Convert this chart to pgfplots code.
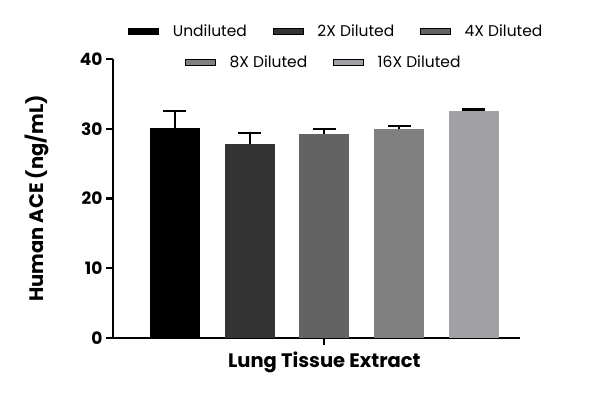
\documentclass[border=0pt]{standalone}
\usepackage{fontspec}
\setmainfont{Poppins}
\usepackage{pgfplots}
\pgfplotsset{compat=1.18}
\definecolor{c1}{HTML}{000000}
\definecolor{c2}{HTML}{333333}
\definecolor{c3}{HTML}{636363}
\definecolor{c4}{HTML}{808080}
\definecolor{c5}{HTML}{A1A0A4}
\newcommand{\gap}{\kern 24pt\mbox{}}
\pgfplotsset{
  barsty/.style={ybar, bar width=50pt, bar shift=0pt, draw=none, forget plot,
    error bars/y dir=plus, error bars/y explicit,
    error bars/error bar style={line width=2.2pt, black},
    error bars/error mark options={rotate=90, mark size=11.5pt, line width=2.2pt, black}},
  legsty/.style={
    legend image code/.code={\fill[##1] (0pt,-3pt) rectangle (30pt,3pt);},
    legend style={draw=none, fill=none, font=\fontsize{15.5}{17}\selectfont,
      /tikz/every odd column/.append style={column sep=12pt},
      legend cell align=left},
  },
}
\begin{document}
\begin{tikzpicture}[x=1pt,y=1pt]
\useasboundingbox (0,0) rectangle (600,398);
\begin{axis}[
  at={(113pt,60pt)}, anchor=south west,
  scale only axis, width=407pt, height=279pt,
  xmin=0.17, xmax=5.62, ymin=0, ymax=40,
  axis lines=left, axis line style={-, line width=2.6pt},
  ytick={0,10,20,30,40}, xtick={3}, xticklabels={Lung Tissue Extract},
  tick align=outside, major tick length=7pt,
  tick style={line width=2.2pt, black},
  /pgf/number format/assume math mode=true,
  yticklabel style={font=\fontsize{17}{19}\selectfont\bfseries},
  xticklabel style={font=\fontsize{19.5}{21}\selectfont\bfseries, yshift=-3pt},
  ylabel={Human ACE (ng/mL)},
  ylabel style={font=\fontsize{19.5}{21}\selectfont\bfseries, yshift=24pt},
  legsty,
  legend columns=3,
  legend style={at={(0.549,1.098)}, anchor=center},
]
\addlegendimage{fill=c1}\addlegendentry{Undiluted\gap}
\addlegendimage{fill=c2}\addlegendentry{2X Diluted\gap}
\addlegendimage{fill=c3}\addlegendentry{4X Diluted}
\addplot[fill=c1, barsty] coordinates {(1,30.1) +- (0,2.5)};
\addplot[fill=c2, barsty] coordinates {(2,27.8) +- (0,1.6)};
\addplot[fill=c3, barsty] coordinates {(3,29.2) +- (0,0.8)};
\addplot[fill=c4, barsty] coordinates {(4,29.9) +- (0,0.5)};
\addplot[fill=c5, barsty] coordinates {(5,32.5) +- (0,0.25)};
\end{axis}
\begin{axis}[
  at={(113pt,60pt)}, anchor=south west,
  scale only axis, width=407pt, height=279pt,
  xmin=0.17, xmax=5.62, ymin=0, ymax=40,
  hide axis,
  legsty,
  legend columns=2,
  legend style={at={(0.518,0.989)}, anchor=center},
]
\addlegendimage{fill=c4}\addlegendentry{8X Diluted\gap}
\addlegendimage{fill=c5}\addlegendentry{16X Diluted}
\end{axis}
\end{tikzpicture}
\end{document}
